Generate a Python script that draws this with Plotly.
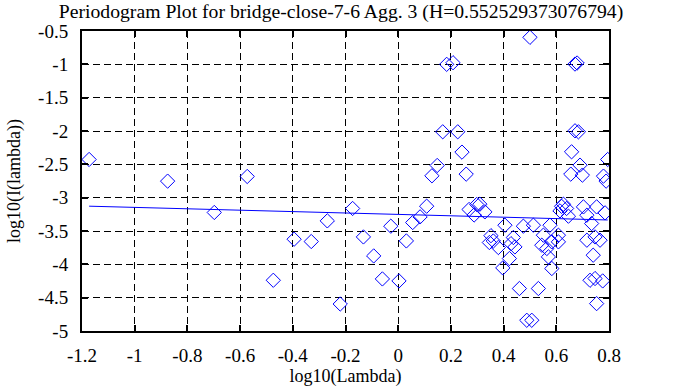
import plotly.graph_objects as go
import numpy as np

title_text = "Periodogram Plot for bridge-close-7-6 Agg. 3 (H=0.552529373076794)"
H = 0.552529373076794
fit_slope = 1 - 2 * H
fit_intercept = -3.251

log_lambda = [
    -1.173, -0.875, -0.573, -0.698, -0.474, -0.395, -0.330, -0.269, -0.220, -0.173,
    -0.132, -0.093, -0.060, -0.028, 0.003, 0.031, 0.055, 0.083, 0.108, 0.128,
    0.148, 0.169, 0.184, 0.208, 0.226, 0.242, 0.258, 0.269, 0.288, 0.298,
    0.310, 0.329, 0.346, 0.352, 0.361, 0.380, 0.397, 0.405, 0.422, 0.428,
    0.437, 0.443, 0.460, 0.475, 0.488, 0.500, 0.507, 0.513, 0.532, 0.545,
    0.551, 0.564, 0.570, 0.576, 0.583, 0.583, 0.608, 0.608, 0.614, 0.620,
    0.627, 0.639, 0.646, 0.655, 0.658, 0.671, 0.684, 0.671, 0.679, 0.690,
    0.699, 0.703, 0.716, 0.734, 0.716, 0.747, 0.753, 0.766, 0.740, 0.728,
    0.747, 0.776, 0.753, 0.785, 0.795, 0.779, 0.789,
]
log_periodogram = [
    -2.427, -2.752, -2.682, -3.222, -4.239, -3.623, -3.658, -3.348, -4.595, -3.162,
    -3.589, -3.874, -4.219, -3.428, -4.249, -3.649, -3.373, -3.288, -3.128, -2.672,
    -2.517, -2.012, -1.000, -0.976, -2.012, -2.317, -2.647, -3.177, -3.260, -3.102,
    -3.098, -3.213, -3.673, -3.570, -3.650, -3.748, -4.054, -3.413, -3.913, -3.690,
    -3.598, -3.739, -4.363, -3.428, -4.839, -0.595, -4.839, -3.413, -4.363, -3.713,
    -3.563, -3.763, -3.888, -3.413, -3.663, -4.063, -3.563, -3.663, -3.198, -3.130,
    -3.098, -3.162, -3.278, -2.647, -2.312, -1.997, -2.012, -0.996, -0.980, -2.512,
    -2.662, -3.138, -3.263, -3.388, -3.638, -3.589, -3.138, -3.638, -3.863, -4.239,
    -4.213, -4.249, -4.589, -3.228, -2.427, -2.677, -2.752,
]

x_ticks = [-1.2, -1, -0.8, -0.6, -0.4, -0.2, 0, 0.2, 0.4, 0.6, 0.8]
x_tick_labels = ["-1.2", "-1", "-0.8", "-0.6", "-0.4", "-0.2", "0", "0.2", "0.4", "0.6", "0.8"]
y_ticks = [-0.5, -1, -1.5, -2, -2.5, -3, -3.5, -4, -4.5, -5]
y_tick_labels = ["-0.5", "-1", "-1.5", "-2", "-2.5", "-3", "-3.5", "-4", "-4.5", "-5"]

xs = np.array(log_lambda)
line_x = [xs.min(), xs.max()]
line_y = [fit_intercept + fit_slope * v for v in line_x]

FONT = "Liberation Serif"

fig = go.Figure()
fig.add_trace(go.Scatter(
    x=log_lambda, y=log_periodogram, mode="markers",
    marker=dict(symbol="diamond-open", size=11, color="#0000ff", line=dict(width=1, color="#0000ff")),
    showlegend=False,
))
fig.add_trace(go.Scatter(
    x=line_x, y=line_y, mode="lines",
    line=dict(color="#0000ff", width=1), showlegend=False, hoverinfo="skip",
))

axis_common = dict(
    showline=True, linecolor="black", linewidth=2, mirror="ticks",
    ticks="inside", ticklen=6, tickwidth=2, tickcolor="black",
    showgrid=True, gridcolor="black", gridwidth=1, griddash="7px,4px",
    zeroline=False, automargin=False,
    tickfont=dict(family=FONT, size=19, color="black"),
)

fig.update_layout(
    width=683, height=387,
    margin=dict(l=82, r=74, t=31, b=56, autoexpand=False),
    paper_bgcolor="white", plot_bgcolor="white",
    title=dict(text=title_text, x=341 / 683, xref="container", xanchor="center",
               y=1 - 11 / 387, yref="container", yanchor="middle", automargin=False,
               font=dict(family=FONT, size=19.7, color="black")),
    xaxis=dict(axis_common, range=[-1.2, 0.8], tickvals=x_ticks, ticktext=x_tick_labels,
               title=dict(text="log10(Lambda)", font=dict(family=FONT, size=18, color="black"), standoff=2),
               ticklabelstandoff=6),
    yaxis=dict(axis_common, range=[-5, -0.5], tickvals=y_ticks, ticktext=y_tick_labels,
               title=dict(text="log10(I(lambda))", font=dict(family=FONT, size=18, color="black"), standoff=13),
               ticklabelstandoff=8),
)

fig.write_html("out.html", config={"displayModeBar": False},
               post_script="document.body.style.margin='0';document.body.style.overflow='hidden';")
